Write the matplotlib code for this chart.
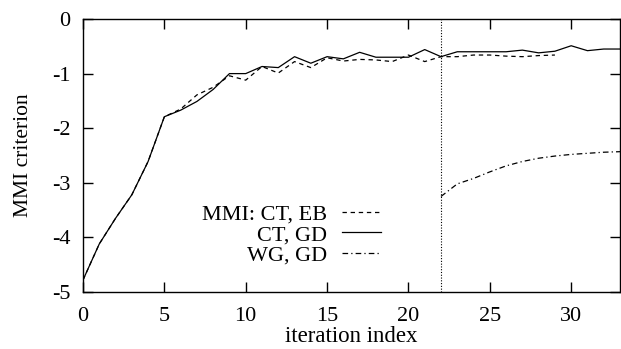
import matplotlib
matplotlib.use("Agg")
import matplotlib.pyplot as plt

plt.rcParams["font.family"] = ["Liberation Serif", "DejaVu Serif"]

# iteration indices
iters_eb = list(range(0, 30))
iters_gd = list(range(0, 34))
iters_wg = list(range(22, 34))

# MMI: CT, EB (dashed)
mmi_eb = [-4.78, -4.12, -3.65, -3.22, -2.61, -1.79, -1.65, -1.39, -1.25, -1.04,
          -1.12, -0.87, -0.99, -0.78, -0.89, -0.71, -0.77, -0.74, -0.75, -0.78,
          -0.66, -0.78, -0.69, -0.69, -0.66, -0.66, -0.68, -0.69, -0.67, -0.66]
# CT, GD (solid)
mmi_gd = [-4.78, -4.12, -3.65, -3.22, -2.61, -1.79, -1.67, -1.51, -1.29, -1.00,
          -1.00, -0.87, -0.89, -0.69, -0.81, -0.69, -0.73, -0.61, -0.70, -0.70,
          -0.70, -0.56, -0.69, -0.60, -0.60, -0.60, -0.60, -0.57, -0.62, -0.59,
          -0.49, -0.58, -0.55, -0.55]
# WG, GD (dash-dot)
mmi_wg = [-3.25, -3.02, -2.92, -2.80, -2.69, -2.61, -2.55, -2.51, -2.48, -2.46,
          -2.44, -2.43]

switch_iter = 22

xticks = [0, 5, 10, 15, 20, 25, 30]
yticks = [0, -1, -2, -3, -4, -5]

fig = plt.figure(figsize=(6.21, 3.49), dpi=100)
ax = fig.add_axes([83 / 621, 1 - 292 / 349, 537 / 621, 273 / 349])

ax.plot(iters_eb, mmi_eb, color="black", lw=0.9, dashes=(3.5, 3), label="MMI: CT, EB")
ax.plot(iters_gd, mmi_gd, color="black", lw=0.9, label="CT, GD")
ax.plot(iters_wg, mmi_wg, color="black", lw=0.9, dashes=(4.5, 2.5, 1, 2.5), label="WG, GD")
ax.axvline(switch_iter, color="black", lw=0.8, ls=(0, (1, 1.5)))

ax.set_xlim(0, 33)
ax.set_ylim(-5, 0)
ax.set_xticks(xticks)
ax.set_xticklabels([str(t) for t in xticks])
ax.set_yticks(yticks)
ax.set_yticklabels([str(t) for t in yticks])
ax.tick_params(direction="in", length=7, width=1, top=True, right=True,
               labelsize=16)
ax.tick_params(axis="x", pad=11)
ax.tick_params(axis="y", pad=9)
for s in ax.spines.values():
    s.set_linewidth(1)

ax.set_xlabel("iteration index", fontsize=16.5, labelpad=0)
ax.set_ylabel("MMI criterion", fontsize=15.5, labelpad=14)

leg = ax.legend(loc="upper right", bbox_to_anchor=(0.575, 0.363), frameon=False,
                fontsize=16, markerfirst=False, handlelength=1.75,
                handletextpad=0.65, labelspacing=0.0, borderpad=0)
for t in leg.get_texts():
    t.set_ha("right")
leg._legend_box.align = "right"

fig.savefig("out.png", dpi=100)
